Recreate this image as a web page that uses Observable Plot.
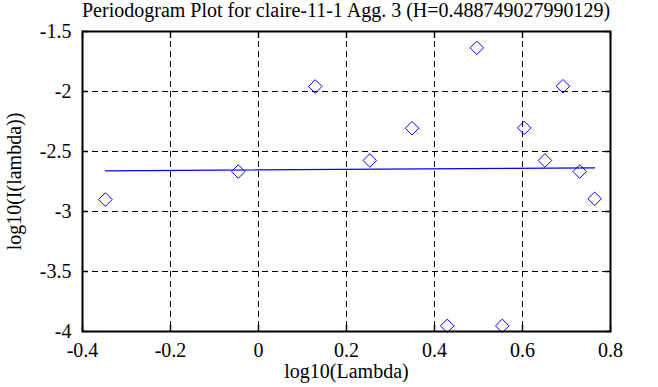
<!DOCTYPE html>
<html>
<head>
<meta charset="utf-8">
<script src="https://cdn.jsdelivr.net/npm/d3@7"></script>
<script src="https://cdn.jsdelivr.net/npm/@observablehq/plot@0.6"></script>
<style>
  html, body { margin: 0; padding: 0; background: #fff; }
  svg { display: block; }
</style>
</head>
<body>
<div style="position: relative; width: 658px; height: 387px;">
<div id="chart"></div>
<div id="title" style="position: absolute; top: 0; left: 82px; width: 528px; font-family: 'Liberation Serif'; font-size: 20px; line-height: 20px; text-align: center; white-space: nowrap; color: #000;">Periodogram Plot for claire-11-1 Agg. 3 (H=0.488749027990129)</div>
</div>
<script>
const logLambda = [-0.348, -0.046, 0.129, 0.253, 0.349, 0.429, 0.496, 0.554, 0.604, 0.651, 0.692, 0.730, 0.764];
const logI = [-2.900, -2.667, -1.958, -2.575, -2.306, -3.953, -1.636, -3.953, -2.303, -2.575, -1.956, -2.667, -2.894];
const fitX = [-0.348, 0.764];
const fitY = [-2.661, -2.636];
const xTicks = [-0.4, -0.2, 0, 0.2, 0.4, 0.6, 0.8];
const yTicks = [-4, -3.5, -3, -2.5, -2, -1.5];

const points = logLambda.map((x, i) => ({x, y: logI[i]}));
const fit = fitX.map((x, i) => ({x, y: fitY[i]}));
const fmt = d => String(d);

const chart = Plot.plot({
  width: 658,
  height: 387,
  marginLeft: 82,
  marginRight: 48,
  marginTop: 31,
  marginBottom: 56,
  style: {fontSize: "20px", color: "#000", background: "#fff", overflow: "visible"},
  x: {domain: [-0.4, 0.8]},
  y: {domain: [-4, -1.5]},
  marks: [
    Plot.gridX(xTicks, {stroke: "#000", strokeOpacity: 1, strokeDasharray: "6,4", strokeWidth: 1}),
    Plot.gridY(yTicks, {stroke: "#000", strokeOpacity: 1, strokeDasharray: "6,4", strokeWidth: 1}),
    Plot.axisX(xTicks, {anchor: "bottom", tickSize: -6, tickPadding: 17, tickFormat: fmt, strokeWidth: 1.5, fontSize: 20, label: "log10(Lambda)", labelAnchor: "center", labelOffset: 46, labelArrow: "none"}),
    Plot.axisX(xTicks, {anchor: "top", tickSize: -6, tickFormat: null, text: null, strokeWidth: 1.5, label: null}),
    Plot.axisY(yTicks, {anchor: "left", tickSize: -6, tickPadding: 17, tickFormat: fmt, strokeWidth: 1.5, fontSize: 20, label: "log10(I(lambda))", labelAnchor: "center", labelOffset: 76, labelArrow: "none"}),
    Plot.axisY(yTicks, {anchor: "right", tickSize: -6, tickFormat: null, text: null, strokeWidth: 1.5, label: null}),
    Plot.line(fit, {x: "x", y: "y", stroke: "#0000ff", strokeWidth: 1.3}),
    Plot.dot(points, {x: "x", y: "y", symbol: "diamond2", r: 6.1, stroke: "#0000ff", strokeWidth: 1, fill: "none"}),
    Plot.frame({stroke: "#000", strokeWidth: 2})
  ]
});
d3.select(chart).style("font-family", "'Liberation Serif'");
d3.select(chart).selectAll("text, g").style("font-family", "'Liberation Serif'");
document.getElementById("chart").appendChild(chart);
</script>
</body>
</html>
